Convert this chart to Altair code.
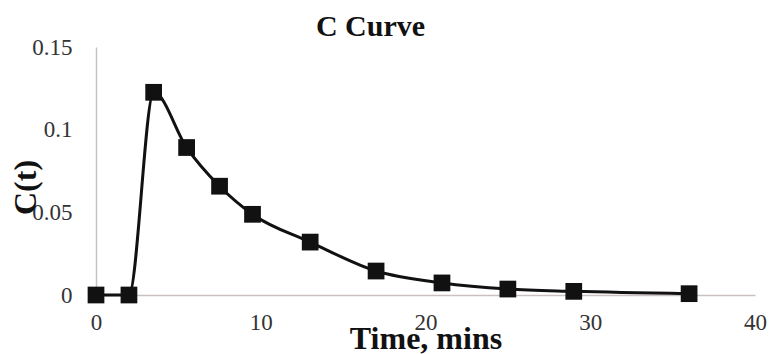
import altair as alt
import pandas as pd

time_min = [0, 2, 3.5, 5.5, 7.5, 9.5, 13, 17, 21, 25, 29, 36]
c_t = [0.0, 0.0, 0.1226, 0.0892, 0.0658, 0.0488, 0.032, 0.0145, 0.0073, 0.0036, 0.0022, 0.0008]

df = pd.DataFrame({"t": time_min, "c": c_t})

serif = "Times New Roman, Liberation Serif, DejaVu Serif, serif"

x = alt.X("t:Q", scale=alt.Scale(domain=[0, 40], nice=False),
          axis=alt.Axis(values=[0, 10, 20, 30, 40], title="Time, mins",
                        titleFontSize=32, titleFont=serif, titleFontWeight="bold",
                        titleColor="#111111", titleY=43, titleBaseline="middle",
                        labelPadding=16, labelFlush=False))
y = alt.Y("c:Q", scale=alt.Scale(domain=[0, 0.15], nice=False),
          axis=alt.Axis(values=[0, 0.05, 0.1, 0.15], format=".2~f", title="C(t)",
                        titleFontSize=32, titleFont=serif, titleFontWeight="bold",
                        titleColor="#111111", titleX=-71, titleY=140,
                        titleAngle=270, titleAlign="center", titleBaseline="middle",
                        labelPadding=24, labelFlush=False))

line = alt.Chart(df).mark_line(interpolate="monotone", color="#111111", strokeWidth=3).encode(x=x, y=y)
pts = alt.Chart(df).mark_point(shape="square", filled=True, size=280, color="#111111", opacity=1).encode(x="t:Q", y="c:Q")

chart = alt.layer(line, pts).properties(
    width=659, height=248,
    title=alt.TitleParams("C Curve", font=serif, fontSize=30, fontWeight="bold",
                          color="#111111", dx=-55, dy=14, offset=8),
    autosize=alt.AutoSizeParams(type="none"),
    padding={"left": 96, "top": 47, "right": 15, "bottom": 59},
).configure_view(stroke=None).configure_axis(
    grid=False, ticks=False, domainColor="#c9c0c0", domainWidth=1.5,
    labelFont=serif, labelFontSize=23, labelColor="#333333",
)

chart.save("out.html", embed_options={"renderer": "svg", "actions": False})
